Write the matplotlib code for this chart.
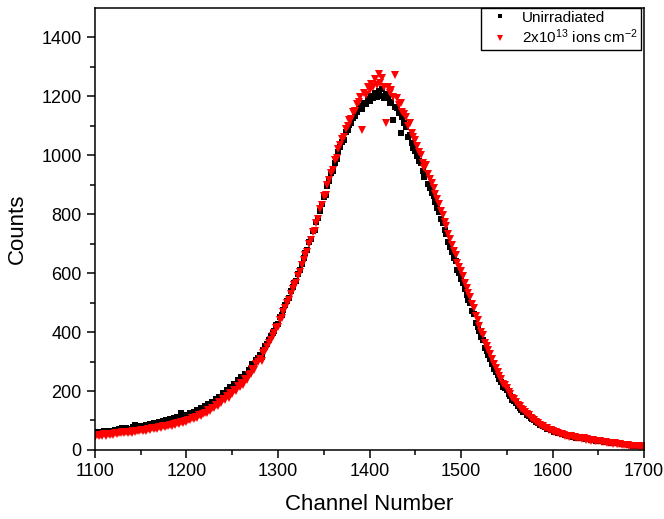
import matplotlib
matplotlib.use('Agg')
import matplotlib.pyplot as plt
import numpy as np

plt.rcParams['font.family'] = ['Liberation Sans', 'DejaVu Sans']
plt.rcParams['mathtext.fontset'] = 'custom'
plt.rcParams['mathtext.rm'] = 'Liberation Sans'
plt.rcParams['mathtext.default'] = 'regular'

# channel numbers (every 2nd channel)
channels = np.arange(1100, 1701, 2)

# Unirradiated counts, 5 values per 10 channels
unirr = [
    56, 62, 54, 61, 59,   64, 58, 66, 60, 63,   62, 69, 64, 71, 66,
    73, 67, 75, 70, 72,   71, 78, 86, 74, 80,   77, 83, 79, 86, 81,
    88, 84, 92, 87, 90,   95, 90, 98, 94, 101,  97, 104, 100, 107, 103,
    112, 106, 126, 110, 116,   120, 115, 125, 121, 129,
    127, 135, 132, 141, 138,   148, 144, 156, 152, 162,
    160, 172, 168, 181, 178,   193, 188, 204, 198, 212,
    210, 224, 219, 236, 229,   246, 238, 258, 255, 272,
    276, 292, 288, 306, 312,   322, 316, 340, 352, 358,
    374, 385, 398, 405, 424,   428, 452, 458, 476, 492,
    506, 515, 538, 552, 568,   574, 598, 612, 632, 652,
    668, 678, 705, 716, 742,   745, 772, 788, 812, 835,
    858, 866, 895, 912, 940,   948, 975, 988, 1012, 1028,
    1045, 1052, 1078, 1085, 1102,   1108, 1125, 1132, 1148, 1155,
    1166, 1158, 1178, 1172, 1192,   1185, 1200, 1194, 1212, 1198,
    1218, 1202, 1225, 1195, 1208,   1196, 1178, 1182, 1120, 1165,
    1160, 1142, 1075, 1128, 1110,   1095, 1062, 1070, 1040, 1025,
    1015, 998, 980, 972, 945,   925, 935, 902, 890, 872,
    860, 842, 822, 806, 785,   770, 745, 732, 705, 690,
    672, 650, 640, 612, 600,   580, 566, 545, 525, 510,
    498, 472, 460, 432, 418,   405, 382, 372, 345, 335,
    322, 308, 292, 275, 265,   255, 240, 232, 215, 210,
    202, 190, 182, 170, 166,   158, 150, 142, 135, 130,
    128, 120, 116, 108, 105,   102, 95, 92, 85, 84,
    80, 78, 72, 70, 68,   68, 62, 64, 58, 57,
    55, 53, 50, 51, 47,   49, 45, 46, 42, 43,
    41, 43, 39, 38, 40,   36, 34, 37, 33, 32,
    33, 30, 31, 28, 29,   27, 28, 25, 26, 23,
    24, 22, 23, 20, 21,   19, 20, 17, 18, 15,
    16, 14, 15, 13, 14,
    12,
]

# 2x10^13 ions cm^-2 counts, 5 values per 10 channels
irr = [
    45, 50, 47, 52, 48,   53, 49, 55, 51, 54,   52, 57, 55, 59, 56,
    60, 56, 62, 58, 61,   59, 64, 61, 66, 63,   67, 63, 69, 65, 70,
    68, 73, 70, 76, 72,   78, 74, 80, 77, 83,   80, 86, 83, 89, 85,
    91, 88, 95, 92, 99,   96, 103, 100, 108, 104,
    112, 108, 118, 115, 122,   127, 124, 135, 132, 142,
    142, 152, 148, 162, 158,   172, 168, 182, 178, 192,
    190, 204, 200, 216, 212,   228, 222, 242, 238, 256,
    258, 274, 272, 290, 298,   308, 302, 328, 335, 350,
    364, 372, 388, 396, 415,   418, 440, 448, 468, 480,
    498, 508, 530, 545, 560,   565, 590, 605, 628, 645,
    662, 672, 700, 712, 738,   742, 770, 785, 818, 830,
    862, 865, 900, 915, 938,   950, 982, 990, 1020, 1035,
    1055, 1062, 1090, 1098, 1118,   1122, 1148, 1150, 1175, 1180,
    1198, 1085, 1212, 1205, 1232,   1220, 1242, 1230, 1258, 1238,
    1275, 1245, 1262, 1232, 1110,   1230, 1212, 1222, 1198, 1272,
    1195, 1170, 1178, 1148, 1138,   1128, 1100, 1108, 1075, 1060,
    1050, 1030, 1012, 1002, 975,   958, 968, 935, 920, 905,
    888, 870, 852, 835, 812,   798, 775, 760, 732, 715,
    695, 675, 662, 635, 622,   608, 590, 568, 550, 532,
    520, 495, 482, 455, 440,   422, 400, 390, 362, 352,
    340, 325, 308, 290, 278,   265, 250, 242, 225, 220,
    210, 198, 190, 176, 172,   164, 154, 148, 138, 134,
    130, 122, 118, 110, 106,   102, 96, 91, 86, 83,
    81, 76, 73, 68, 67,   65, 60, 61, 56, 55,
    53, 51, 48, 49, 45,   47, 43, 44, 41, 42,
    40, 38, 39, 35, 36,   35, 32, 33, 30, 31,
    29, 30, 27, 28, 26,   25, 23, 24, 21, 22,
    21, 19, 20, 17, 18,   16, 17, 15, 14, 15,
    13, 12, 13, 11, 12,
    10,
]

fig = plt.figure(figsize=(6.64, 5.19), dpi=100)
ax = fig.add_axes([0.143, 0.133, 0.827, 0.852])

ax.plot(channels, unirr, 's', color='black', markersize=3.9,
        markeredgewidth=0, label='Unirradiated')
ax.plot(channels, irr, 'v', color='red', markersize=5.2,
        markeredgewidth=0, label='2x10$^{13}$ ions cm$^{-2}$')

ax.set_xlim(1100, 1700)
ax.set_ylim(0, 1500)
ax.set_xticks(np.arange(1100, 1701, 100))
ax.set_xticks(np.arange(1150, 1700, 100), minor=True)
ax.set_yticks(np.arange(0, 1401, 200))
ax.set_yticks(np.arange(100, 1500, 200), minor=True)
ax.tick_params(which='major', direction='out', length=6, width=1.1, labelsize=13)
ax.tick_params(which='minor', direction='out', length=3.5, width=1.1)
for s in ax.spines.values():
    s.set_linewidth(1.1)

ax.set_xlabel('Channel Number', fontsize=16, labelpad=10)
ax.set_ylabel('Counts', fontsize=16, labelpad=10)

leg = ax.legend(loc='upper right', bbox_to_anchor=(0.995, 1.0), borderaxespad=0,
                fontsize=11, frameon=True, fancybox=False, edgecolor='black',
                framealpha=1, handlelength=2.2, handletextpad=0.33,
                borderpad=0.2, labelspacing=0.2, markerscale=0.75)
leg.get_frame().set_linewidth(1.0)

fig.savefig('out.png', dpi=100)
